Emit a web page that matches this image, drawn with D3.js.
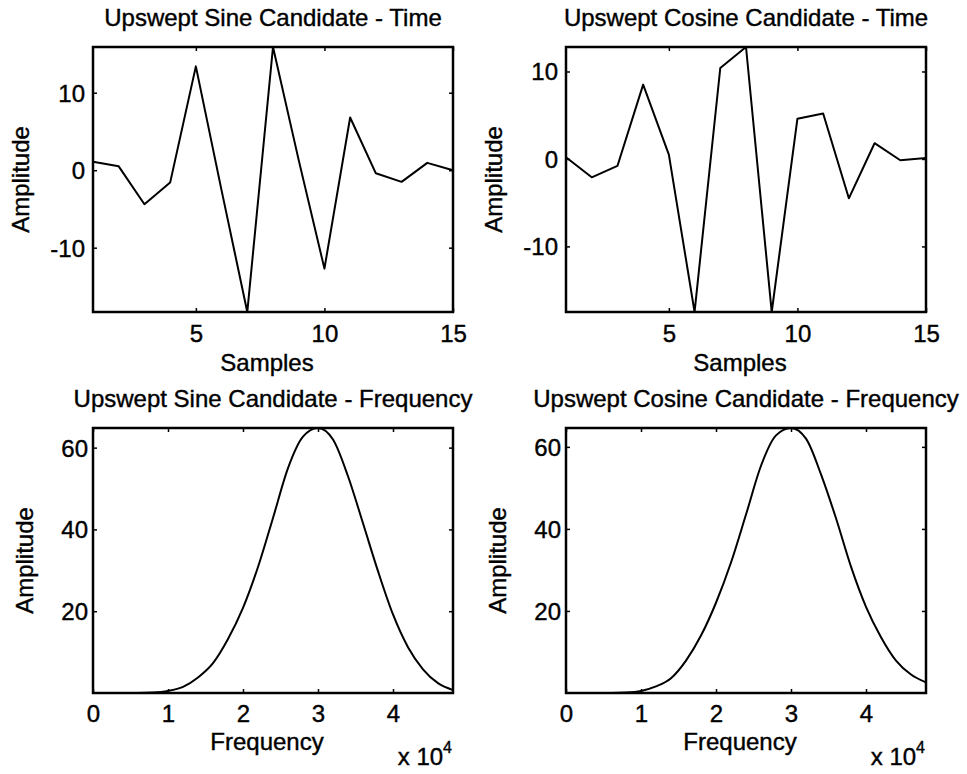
<!DOCTYPE html>
<html>
<head>
<meta charset="utf-8">
<script src="https://cdn.jsdelivr.net/npm/d3@7"></script>
<style>
  html, body { margin: 0; padding: 0; background: #fff; }
  svg { display: block; font-family: "Liberation Sans", Arial, sans-serif; }
  text { fill: #000; stroke: #000; stroke-width: 0.4px; }
</style>
</head>
<body>
<svg id="chart" width="967" height="774"></svg>
<script>
// ---- Data ----
const samples = [1, 2, 3, 4, 5, 6, 7, 8, 9, 10, 11, 12, 13, 14, 15];
const sineTime = [1.1, 0.5, -4.4, -1.6, 13.4, -2.6, -18.3, 15.9, 1.3, -12.7, 6.8, -0.4, -1.5, 0.95, 0.0];
const cosineTime = [0.2, -2.1, -0.8, 8.5, 0.5, -17.5, 10.4, 12.8, -17.5, 4.6, 5.2, -4.5, 1.8, -0.15, 0.1];

const freqs = [0, 2000, 4000, 6000, 8000, 10000, 12000, 14000, 16000, 18000, 20000, 22000, 24000,
               26000, 28000, 30000, 32000, 34000, 36000, 38000, 40000, 42000, 44000, 46000, 48000];
const sineFreq = [0, 0, 0, 0, 0.1, 0.5, 1.5, 3.8, 7.3, 13.2, 20.8, 30.8, 42.8,
                  55.0, 62.7, 64.8, 62.0, 53.0, 41.5, 29.8, 19.2, 11.2, 5.8, 2.4, 0.7];
const cosineFreq = [0, 0, 0, 0, 0.1, 0.5, 1.6, 3.6, 7.9, 14.0, 22.0, 31.8, 43.5,
                    55.4, 62.8, 64.6, 62.0, 53.3, 42.6, 30.8, 21.0, 13.6, 7.9, 4.5, 2.6];

const timeXTicks = [5, 10, 15];
const timeYTicks = [-10, 0, 10];
const freqXTicks = [0, 10000, 20000, 30000, 40000];
const freqYTicks = [20, 40, 60];

const titles = [
  "Upswept Sine Candidate - Time",
  "Upswept Cosine Candidate - Time",
  "Upswept Sine Candidate - Frequency",
  "Upswept Cosine Candidate - Frequency"
];

// ---- Layout ----
const svg = d3.select("#chart");
const plain = d => String(d);
const panels = [
  { left: 93, right: 453, top: 47, bottom: 312, x: samples, y: sineTime, xDomain: [1, 15],
    xTicks: timeXTicks, yTicks: timeYTicks, xfmt: plain, xlabel: "Samples", curve: d3.curveLinear, title: titles[0], exp: false },
  { left: 566, right: 926, top: 47, bottom: 312, x: samples, y: cosineTime, xDomain: [1, 15],
    xTicks: timeXTicks, yTicks: timeYTicks, xfmt: plain, xlabel: "Samples", curve: d3.curveLinear, title: titles[1], exp: false },
  { left: 93, right: 453, top: 428, bottom: 693, x: freqs, y: sineFreq, xDomain: [0, 48000],
    xTicks: freqXTicks, yTicks: freqYTicks, xfmt: d => String(d / 10000), xlabel: "Frequency", curve: d3.curveMonotoneX, title: titles[2], exp: true },
  { left: 566, right: 926, top: 428, bottom: 693, x: freqs, y: cosineFreq, xDomain: [0, 48000],
    xTicks: freqXTicks, yTicks: freqYTicks, xfmt: d => String(d / 10000), xlabel: "Frequency", curve: d3.curveMonotoneX, title: titles[3], exp: true }
];

panels.forEach(p => {
  const w = p.right - p.left, h = p.bottom - p.top;
  const g = svg.append("g").attr("transform", `translate(${p.left},${p.top})`);
  const x = d3.scaleLinear().domain(p.xDomain).range([0, w]);
  const y = d3.scaleLinear().domain(d3.extent(p.y)).range([h, 0]);

  // line
  const pts = p.x.map((d, i) => [d, p.y[i]]);
  g.append("path")
    .datum(pts)
    .attr("fill", "none")
    .attr("stroke", "#000")
    .attr("stroke-width", 2)
    .attr("stroke-linejoin", "round")
    .attr("d", d3.line().x(d => x(d[0])).y(d => y(d[1])).curve(p.curve));

  // axes (inward ticks, MATLAB style)
  const tl = 4;
  const fs = 24;
  const ax = g.append("g").attr("transform", `translate(0,${h})`)
    .call(d3.axisBottom(x).tickValues(p.xTicks).tickSize(-tl).tickPadding(0).tickFormat(p.xfmt));
  const axT = g.append("g")
    .call(d3.axisTop(x).tickValues(p.xTicks).tickSize(-tl).tickFormat(""));
  const ay = g.append("g")
    .call(d3.axisLeft(y).tickValues(p.yTicks).tickSize(-tl).tickPadding(0).tickFormat(plain));
  const ayR = g.append("g").attr("transform", `translate(${w},0)`)
    .call(d3.axisRight(y).tickValues(p.yTicks).tickSize(-tl).tickFormat(""));
  [ax, axT, ay, ayR].forEach(a => {
    a.select(".domain").remove();
    a.selectAll("line").attr("stroke", "#000").attr("stroke-width", 1.5);
  });
  ax.selectAll("text").attr("font-size", fs).attr("fill", "#000")
    .attr("y", p.exp ? 29 : 30).attr("dy", 0).attr("font-family", "Liberation Sans, Arial, sans-serif");
  ay.selectAll("text").attr("font-size", fs).attr("fill", "#000")
    .attr("x", p.exp ? -5 : -8).attr("dy", "0.35em").attr("font-family", "Liberation Sans, Arial, sans-serif");

  // box
  g.append("rect").attr("x", 0).attr("y", 0).attr("width", w).attr("height", h)
    .attr("fill", "none").attr("stroke", "#000").attr("stroke-width", 2.5);

  // title
  svg.append("text")
    .attr("x", p.left + w / 2).attr("y", p.top - 21)
    .attr("text-anchor", "middle").attr("font-size", 24)
    .text(p.title);

  // x label
  svg.append("text")
    .attr("x", p.left + w / 2 - 6).attr("y", p.bottom + (p.exp ? 57 : 59))
    .attr("text-anchor", "middle").attr("font-size", 24)
    .text(p.xlabel);

  // y label
  svg.append("text")
    .attr("transform", `translate(${p.left - (p.exp ? 60 : 64)},${p.top + h / 2}) rotate(-90)`)
    .attr("text-anchor", "middle").attr("font-size", 24)
    .text("Amplitude");

  // exponent label
  if (p.exp) {
    const t = svg.append("text")
      .attr("x", p.right - 1).attr("y", p.bottom + 72)
      .attr("text-anchor", "end").attr("font-size", 24);
    t.append("tspan").text("x 10");
    t.append("tspan").attr("font-size", 16).attr("dy", -12).text("4");
  }
});
</script>
</body>
</html>
